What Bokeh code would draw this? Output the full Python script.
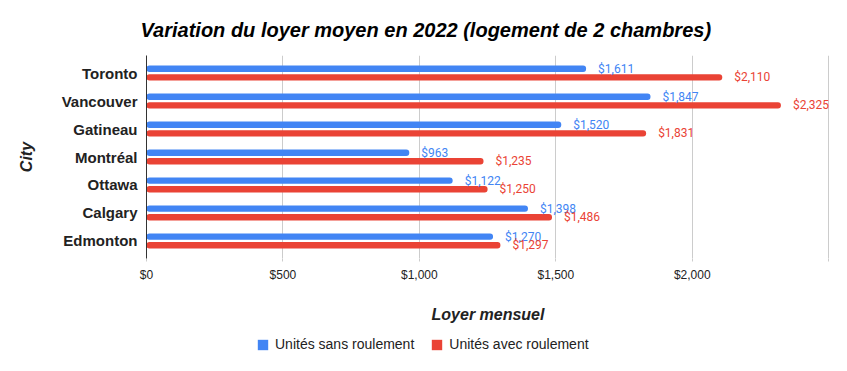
from bokeh.plotting import figure
from bokeh.layouts import column
from bokeh.models import (ColumnDataSource, FactorRange, Range1d, Legend, LegendItem,
                          FixedTicker, NumeralTickFormatter)
from bokeh.transform import dodge
from bokeh.core.properties import value
from bokeh.embed import file_html
from bokeh.resources import INLINE

cities = ["Toronto", "Vancouver", "Gatineau", "Montréal", "Ottawa", "Calgary", "Edmonton"]
sans_roulement = [1611, 1847, 1520, 963, 1122, 1398, 1270]
avec_roulement = [2110, 2325, 1831, 1235, 1250, 1486, 1297]
x_ticks = [0, 500, 1000, 1500, 2000, 2500]
x_tick_labels = ["$0", "$500", "$1,000", "$1,500", "$2,000", ""]
series_names = ["Unités sans roulement", "Unités avec roulement"]

BLUE = "#4285F4"
RED = "#EA4335"

src = ColumnDataSource(dict(
    city=cities,
    sans=sans_roulement,
    avec=avec_roulement,
    sans_lbl=[f"${v:,}" for v in sans_roulement],
    avec_lbl=[f"${v:,}" for v in avec_roulement],
))

p = figure(width=840, height=330,
           y_range=FactorRange(factors=cities[::-1], range_padding=0.036),
           x_range=Range1d(0, 2503),
           output_backend="svg", toolbar_location=None,
           min_border_left=146, min_border_right=11,
           min_border_top=55, min_border_bottom=72,
           title="Variation du loyer moyen en 2022 (logement de 2 chambres)")
p.outline_line_color = None
p.background_fill_color = "white"
p.border_fill_color = "white"

p.title.align = "left"
p.title.offset = -6
p.title.standoff = 30
p.title.text_font = "Liberation Sans"
p.title.text_font_style = "bold italic"
p.title.text_font_size = "20px"
p.title.text_color = "#000000"

r1 = p.hbar(y=dodge("city", 0.155, range=p.y_range), right="sans", left=0, height=0.23,
            color=BLUE, line_color=None, border_radius=3, source=src)
r2 = p.hbar(y=dodge("city", -0.155, range=p.y_range), right="avec", left=0, height=0.23,
            color=RED, line_color=None, border_radius=3, source=src)

p.text(x="sans", y=dodge("city", 0.155, range=p.y_range), text="sans_lbl", x_offset=12,
       text_baseline="middle", text_font=value("Roboto"), text_font_size="12px",
       text_color=BLUE, source=src)
p.text(x="avec", y=dodge("city", -0.155, range=p.y_range), text="avec_lbl", x_offset=12,
       text_baseline="middle", text_font=value("Roboto"), text_font_size="12px",
       text_color=RED, source=src)

# x axis
p.xaxis.ticker = FixedTicker(ticks=x_ticks)
p.xaxis.formatter = NumeralTickFormatter(format="$0,0")
p.xaxis.major_label_overrides = {t: l for t, l in zip(x_ticks, x_tick_labels)}
p.xaxis.axis_line_color = None
p.xaxis.major_tick_line_color = "#cccccc"
p.xaxis.major_tick_out = 3
p.xaxis.major_tick_in = 0
p.xaxis.minor_tick_line_color = None
p.xaxis.major_label_standoff = 6
p.xaxis.major_label_text_font = "Liberation Sans"
p.xaxis.major_label_text_font_size = "12px"
p.xaxis.major_label_text_color = "#222222"
p.xaxis.axis_label = "Loyer mensuel"
p.xaxis.axis_label_text_font = "Liberation Sans"
p.xaxis.axis_label_text_font_style = "bold italic"
p.xaxis.axis_label_text_font_size = "16px"
p.xaxis.axis_label_text_color = "#222222"
p.xaxis.axis_label_standoff = 21

# y axis
p.yaxis.axis_line_color = "#333333"
p.yaxis.major_tick_line_color = None
p.yaxis.major_tick_out = 0
p.yaxis.major_tick_in = 0
p.yaxis.minor_tick_line_color = None
p.yaxis.major_label_standoff = 9
p.yaxis.major_label_text_font = "Liberation Sans"
p.yaxis.major_label_text_font_style = "bold"
p.yaxis.major_label_text_font_size = "15px"
p.yaxis.major_label_text_color = "#222222"
p.yaxis.axis_label = "City"
p.yaxis.axis_label_text_font = "Liberation Sans"
p.yaxis.axis_label_text_font_style = "bold italic"
p.yaxis.axis_label_text_font_size = "16px"
p.yaxis.axis_label_text_color = "#222222"
p.yaxis.axis_label_standoff = 24

p.xgrid.grid_line_color = "#cccccc"
p.ygrid.grid_line_color = None

# legend strip (separate figure holding the legend; swatch renderers sit outside its view)
lg = figure(width=840, height=32, x_range=Range1d(0, 840), y_range=Range1d(0, 32),
            output_backend="svg", toolbar_location=None,
            x_axis_type=None, y_axis_type=None,
            min_border_left=0, min_border_right=0, min_border_top=0, min_border_bottom=0)
lg.outline_line_color = None
lg.grid.visible = False
s1 = lg.hbar(y=-100, right="sans", left=0, height=1, color=BLUE, line_color=None, source=src)
s2 = lg.hbar(y=-100, right="avec", left=0, height=1, color=RED, line_color=None, source=src)

legend = Legend(items=[LegendItem(label=series_names[0], renderers=[s1]),
                       LegendItem(label=series_names[1], renderers=[s2])],
                orientation="horizontal", location=(110, 10),
                border_line_color=None, background_fill_alpha=0,
                padding=0, margin=0, spacing=16, label_standoff=6,
                glyph_width=13, glyph_height=13, label_height=14,
                label_text_font="Liberation Sans", label_text_font_size="14px",
                label_text_color="#222222")
lg.add_layout(legend, "center")

layout = column(p, lg, spacing=0)
open("out.html", "w").write(file_html(layout, INLINE))
